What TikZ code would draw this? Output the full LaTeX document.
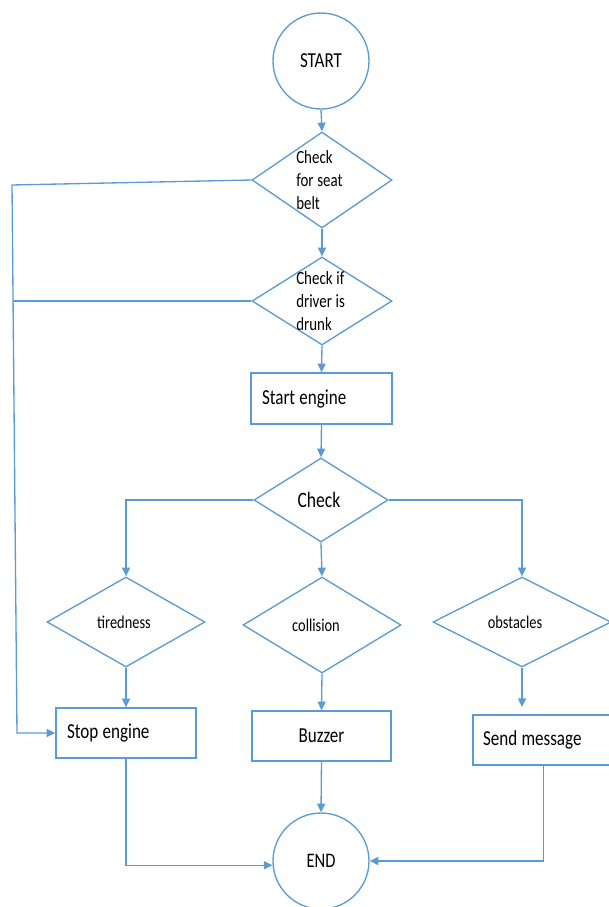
\documentclass[tikz,border=0pt]{standalone}
\usepackage{fontspec}
\setmainfont{Carlito}[FakeStretch=0.8]
\usetikzlibrary{shapes.geometric,arrows.meta}
\definecolor{ln}{HTML}{5B9BD5}
\begin{document}
\begin{tikzpicture}[x=0.75pt,y=-0.75pt,
  every node/.append style={execute at begin node={\spaceskip=0.2em\relax}},
  circ/.style={circle,draw=ln,line width=1pt,minimum size=72pt,inner sep=0pt,font=\fontsize{16}{19}\selectfont},
  dia/.style={diamond,draw=ln,line width=1pt,inner sep=0pt},
  box/.style={rectangle,draw=ln,line width=1pt,font=\fontsize{16}{19}\selectfont,minimum height=37.5pt},
  lbl/.style={inner sep=0pt,align=left},
  conn/.style={draw=ln,line width=1pt},
  arr/.style={conn,-{Triangle[length=6.5pt,width=6pt]}}
]
\clip (0,0) rectangle (609,907);
% circles
\node[circ] (start) at (321,61) {START};
\node[circ,font=\fontsize{15.5}{19}\selectfont] (end) at (321,861) {END};
% diamonds
\node[dia,minimum width=105pt,minimum height=72pt] (d1) at (322,180) {};
\node[lbl,anchor=west,font=\fontsize{14}{17.25}\selectfont] (d1t) at (296,180) {Check\\for seat\\belt};
\node[dia,minimum width=105pt,minimum height=66pt] (d2) at (322,301) {};
\node[lbl,anchor=west,font=\fontsize{14}{17.25}\selectfont] (d2t) at (296,301) {Check if\\driver is\\drunk};
\node[dia,minimum width=100.5pt,minimum height=63pt] (chk) at (321,500) {};
\node[lbl,font=\fontsize{16.5}{20}\selectfont] (chkt) at (319,500) {Check};
\node[dia,minimum width=118.5pt,minimum height=67.5pt] (tir) at (126,622) {};
\node[lbl,font=\fontsize{13.5}{16}\selectfont] (tirt) at (124,622) {tiredness};
\node[dia,minimum width=118.5pt,minimum height=72pt] (col) at (322,625) {};
\node[lbl,font=\fontsize{13.5}{16}\selectfont] (colt) at (316,625) {collision};
\node[dia,minimum width=133.5pt,minimum height=67.5pt] (obs) at (522,622) {};
\node[lbl,font=\fontsize{13.5}{16}\selectfont] (obst) at (515,622) {obstacles};
% boxes
\node[box,minimum width=105.75pt,minimum height=38.25pt,inner xsep=8.25pt,text width=89.25pt,align=left] (se) at (321.5,398.5) {Start engine};
\node[box,minimum width=105pt,inner xsep=8.25pt,text width=88.5pt,align=left] (stop) at (126,733) {Stop engine};
\node[box,minimum width=104.25pt] (buz) at (321.5,736) {Buzzer};
\node[box,minimum width=105.75pt,inner xsep=7.5pt,text width=90.75pt,align=left] (sm) at (543.5,740) {Send message};
% connectors
\draw[arr] (start.south) -- (d1.north);
\draw[arr] (d1.south) -- (d2.north);
\draw[arr] (d2.south) -- (se.north);
\draw[arr] (se.south) -- (chk.north);
\draw[arr] (chk.west) -| (tir.north);
\draw[arr] (chk.east) -| (obs.north);
\draw[arr] (chk.south) -- (col.north);
\draw[arr] (tir.south) -- (stop.north);
\draw[arr] (col.south) -- (buz.north);
\coordinate (smin) at (522,707);
\draw[arr] (obs.south) -- (smin);
\draw[arr] (buz.south) -- (end.north);
\draw[arr] (stop.south) |- (end.185);
\draw[arr] (sm.south) |- (end.east);
\coordinate (fb1) at (12,185);
\coordinate (fb2) at (17,733);
\coordinate (fb3) at (13.1,301);
\draw[arr] (d1.west) -- (fb1) -- (fb2) -- (stop.west);
\draw[conn] (d2.west) -- (fb3);
\end{tikzpicture}
\end{document}
